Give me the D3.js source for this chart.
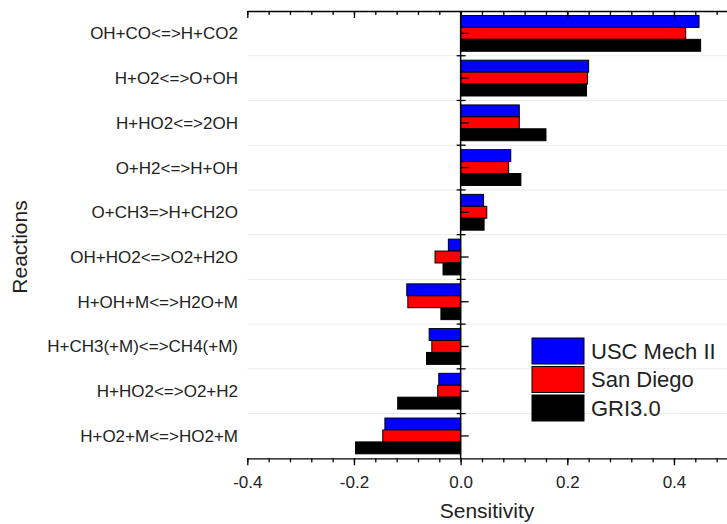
<!DOCTYPE html>
<html>
<head>
<meta charset="utf-8">
<script src="https://cdn.jsdelivr.net/npm/d3@7"></script>
<style>
  body { margin: 0; background: #fff; }
  svg { font-family: "Liberation Sans", Arial, sans-serif; }
</style>
</head>
<body>
<svg width="727" height="524"></svg>
<script>
// reactions, top to bottom
var reactions = [
  "OH+CO<=>H+CO2",
  "H+O2<=>O+OH",
  "H+HO2<=>2OH",
  "O+H2<=>H+OH",
  "O+CH3=>H+CH2O",
  "OH+HO2<=>O2+H2O",
  "H+OH+M<=>H2O+M",
  "H+CH3(+M)<=>CH4(+M)",
  "H+HO2<=>O2+H2",
  "H+O2+M<=>HO2+M"
];
var mechanisms = ["USC Mech II", "San Diego", "GRI3.0"];
var colors = ["#0000ff", "#ff0000", "#000000"];

var uscValues = [0.447, 0.240, 0.110, 0.094, 0.043, -0.023, -0.101, -0.059, -0.041, -0.142];
var sanDiegoValues = [0.422, 0.238, 0.110, 0.090, 0.049, -0.048, -0.099, -0.054, -0.043, -0.146];
var griValues = [0.450, 0.236, 0.160, 0.113, 0.044, -0.033, -0.037, -0.064, -0.118, -0.197];

var xTickValues = [-0.4, -0.2, 0.0, 0.2, 0.4];

var series = [uscValues, sanDiegoValues, griValues];
var data = reactions.map(function(r, i) {
  return { reaction: r, values: series.map(function(s, j) { return { key: mechanisms[j], value: s[i] }; }) };
});

var svg = d3.select("svg");
var plotLeft = 247.3, plotRight = 727.3, plotTop = 11, plotBottom = 458.3;

var x = d3.scaleLinear().domain([-0.4, 0.5]).range([plotLeft, plotRight]);
var y = d3.scaleBand().domain(reactions).range([plotTop, plotBottom]).paddingInner(0.2).paddingOuter(0.1);
var ySub = d3.scaleBand().domain(mechanisms).range([0, y.bandwidth()]);
var color = d3.scaleOrdinal().domain(mechanisms).range(colors);

// light grid lines between the reactions
var step = y.step();
svg.append("g").selectAll("line")
  .data(d3.range(1, reactions.length))
  .enter().append("line")
  .attr("x1", plotLeft).attr("x2", 727)
  .attr("y1", function(i) { return plotTop + i * step; })
  .attr("y2", function(i) { return plotTop + i * step; })
  .attr("stroke", "#ececec")
  .attr("stroke-width", 1);

// bars
var groups = svg.append("g").selectAll("g")
  .data(data)
  .enter().append("g")
  .attr("transform", function(d) { return "translate(0," + y(d.reaction) + ")"; });

groups.selectAll("rect")
  .data(function(d) { return d.values; })
  .enter().append("rect")
  .attr("x", function(d) { return x(Math.min(0, d.value)); })
  .attr("width", function(d) { return Math.abs(x(d.value) - x(0)); })
  .attr("y", function(d) { return ySub(d.key); })
  .attr("height", ySub.bandwidth())
  .attr("fill", function(d) { return color(d.key); })
  .attr("stroke", "#000")
  .attr("stroke-width", 1);

// bottom and top axes
var minorTicks = d3.range(-0.4, 0.5001, 0.04).map(function(v) { return +v.toFixed(2); });

var bottomAxis = svg.append("g")
  .attr("transform", "translate(0," + plotBottom + ")")
  .call(d3.axisBottom(x).tickValues(xTickValues).tickSize(7).tickSizeOuter(0));
bottomAxis.selectAll("text").attr("font-size", 17).attr("dy", "1.15em").attr("fill", "#222")
  .text(function(d) { return d.toFixed(1); });
svg.append("g")
  .attr("transform", "translate(0," + plotBottom + ")")
  .call(d3.axisBottom(x).tickValues(minorTicks).tickFormat("").tickSize(4).tickSizeOuter(0))
  .select(".domain").remove();

svg.append("g")
  .attr("transform", "translate(0," + plotTop + ")")
  .call(d3.axisBottom(x).tickValues(xTickValues).tickFormat("").tickSize(7).tickSizeOuter(0));
svg.append("g")
  .attr("transform", "translate(0," + plotTop + ")")
  .call(d3.axisBottom(x).tickValues(minorTicks).tickFormat("").tickSize(4).tickSizeOuter(0))
  .select(".domain").remove();

svg.selectAll(".domain, .tick line").attr("stroke", "#000").attr("stroke-width", 1.3);

// vertical axis at zero
var zeroAxis = svg.append("g").attr("transform", "translate(" + x(0) + ",0)");
zeroAxis.append("line")
  .attr("y1", plotTop).attr("y2", plotBottom)
  .attr("stroke", "#000").attr("stroke-width", 1.5);
zeroAxis.selectAll(".center")
  .data(reactions).enter().append("line")
  .attr("x1", 0).attr("x2", 8)
  .attr("y1", function(d) { return y(d) + y.bandwidth() / 2; })
  .attr("y2", function(d) { return y(d) + y.bandwidth() / 2; })
  .attr("stroke", "#000").attr("stroke-width", 1.3);
zeroAxis.selectAll(".bound")
  .data(d3.range(1, reactions.length)).enter().append("line")
  .attr("x1", -4).attr("x2", 5)
  .attr("y1", function(i) { return plotTop + i * step; })
  .attr("y2", function(i) { return plotTop + i * step; })
  .attr("stroke", "#000").attr("stroke-width", 1.3);

// reaction labels
svg.append("g").selectAll("text")
  .data(reactions).enter().append("text")
  .attr("x", 238)
  .attr("y", function(d) { return y(d) + y.bandwidth() / 2; })
  .attr("dy", "0.35em")
  .attr("text-anchor", "end")
  .attr("font-size", 17)
  .attr("fill", "#222")
  .text(function(d) { return d; });

// axis titles
svg.append("text")
  .attr("x", 487).attr("y", 518)
  .attr("text-anchor", "middle")
  .attr("font-size", 21)
  .attr("fill", "#222")
  .text("Sensitivity");

svg.append("text")
  .attr("transform", "translate(27,247) rotate(-90)")
  .attr("text-anchor", "middle")
  .attr("font-size", 21)
  .attr("fill", "#222")
  .text("Reactions");

// legend
var legend = svg.append("g").attr("transform", "translate(532,338)");
var items = legend.selectAll("g")
  .data(mechanisms).enter().append("g")
  .attr("transform", function(d, i) { return "translate(0," + i * 28.5 + ")"; });
items.append("rect")
  .attr("width", 52).attr("height", 26)
  .attr("fill", function(d) { return color(d); })
  .attr("stroke", "#000").attr("stroke-width", 1);
items.append("text")
  .attr("x", 59).attr("y", 13)
  .attr("dy", "0.36em")
  .attr("font-size", 22)
  .attr("fill", "#222")
  .text(function(d) { return d; });
</script>
</body>
</html>
